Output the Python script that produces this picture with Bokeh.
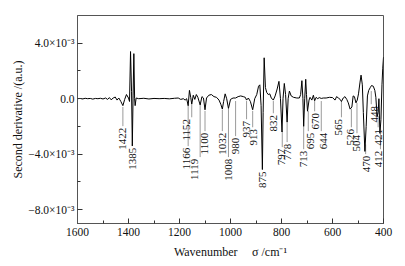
from math import pi
from bokeh.plotting import figure
from bokeh.models import Range1d, FixedTicker, ColumnDataSource
from bokeh.core.properties import value
from bokeh.embed import file_html
from bokeh.resources import INLINE

# ---- data (second derivative in units of 1e-3 a.u.) ----
wavenumber = [1600, 1590, 1580, 1570, 1560, 1550, 1540, 1530, 1520, 1510, 1500,
              1490, 1482, 1475, 1468, 1460, 1452, 1445, 1438, 1430, 1422, 1415,
              1408, 1400, 1396, 1392, 1388, 1385, 1382, 1379, 1376, 1374, 1370,
              1360, 1340, 1320, 1300, 1280, 1260, 1240, 1220, 1205, 1195, 1185,
              1178, 1172, 1166, 1161, 1156, 1152, 1146, 1140, 1134, 1128, 1119,
              1112, 1106, 1100, 1094, 1085, 1075, 1065, 1055, 1045, 1038, 1032,
              1027, 1021, 1015, 1008, 1000, 990, 980, 970, 960, 950, 942, 937,
              930, 922, 913, 905, 897, 890, 885, 880, 875, 872, 868, 863, 858,
              852, 846, 840, 832, 825, 817, 810, 804, 798, 794, 789, 784, 778,
              774, 769, 762, 753, 740, 730, 725, 720, 716, 713, 709, 705, 702,
              698, 692, 688, 681, 675, 670, 664, 658, 652, 644, 636, 625, 612,
              600, 590, 584, 577, 570, 565, 558, 551, 544, 538, 531, 524, 519,
              514, 508, 503, 498, 492, 488, 483, 479, 473, 468, 463, 458, 452,
              447, 440, 434, 430, 425, 421, 418, 414, 410, 406, 403, 400]
second_deriv = [0.00, 0.02, -0.02, 0.03, 0.00, 0.02, -0.03, 0.02, 0.00, 0.03, -0.02,
                0.05, -0.05, 0.08, -0.08, 0.05, 0.12, -0.10, 0.05, -0.20, -0.50, -0.05,
                0.30, 0.05, -0.20, 3.40, 0.50, -3.40, 0.20, 3.25, 0.00, -0.50, 0.05,
                0.00, 0.03, -0.02, 0.02, 0.00, 0.02, -0.01, 0.03, 0.05, -0.05, 0.00,
                -0.10, 0.00, -0.50, 0.60, 0.10, -0.40, 0.25, -0.05, 0.30, 0.10, -0.45,
                0.15, 0.05, -0.80, 0.05, 0.25, 0.30, 0.15, 0.10, -0.10, -0.40, -0.75,
                -0.20, 0.35, 0.00, -0.70, -0.05, 0.05, 0.05, 0.15, 0.20, 0.15, 0.10, -0.10,
                0.05, -0.20, -0.80, 0.00, 0.30, 0.90, 1.00, -0.50, -5.10, -1.00, 2.95, 0.80, 0.45,
                0.30, 0.35, 0.05, -0.10, 0.20, 0.70, 1.25, 0.00, -2.40, 0.00, 1.10, 0.30, -1.70,
                0.00, 0.55, 0.20, 0.10, 0.05, 0.05, 0.30, 1.30, 0.00, -2.00, 0.00, 1.40, 0.30,
                -0.90, -0.10, 0.10, -0.10, 0.25, -0.15, 0.10, 0.00, 0.08, 0.02, 0.05, 0.05, 0.10,
                0.08, -0.10, 0.15, 0.05, -0.05, -0.20, 0.05, 0.15, -0.05, -0.30, -0.75, -0.60, 0.20,
                0.15, -0.30, -0.10, 0.35, 1.20, 1.70, 1.00, -1.00, -3.80, -2.00, 0.20, 0.60, 0.80,
                0.95, 0.90, 0.60, 0.10, -1.30, -1.00, 0.00, -2.50, -1.50, 1.00, 2.20, 3.00]

peak_labels = [1422, 1385, 1152, 1166, 1119, 1100, 1032, 1008, 980, 937, 913, 875,
               832, 797, 778, 713, 695, 670, 644, 565, 526, 504, 470, 448, 421, 412]

y_tick_values = [-8, -4, 0, 4]
y_tick_labels = ["\u22128.0\u00d710\u207b\u00b3", "\u22124.0\u00d710\u207b\u00b3", "0.0",
                 "4.0\u00d710\u207b\u00b3"]
x_tick_values = [1600, 1400, 1200, 1000, 800, 600, 400]

# ---- annotation layout (not data) ----
line_top = [-0.60, -3.30, -0.45, -0.45, -0.45, -0.88, -0.81, -0.74, -0.17, -0.17, -0.88, -5.05,
            -0.17, -2.32, -1.75, -2.03, -0.88, -0.17, -0.17, -0.17, -0.74, -0.31, -3.30, 0.55,
            -1.24, -2.46]
text_top = [-2.10, -3.54, -1.46, -3.54, -4.33, -2.46, -2.46, -4.33, -2.82, -1.60, -2.18, -5.25,
            -1.17, -3.61, -3.25, -3.76, -2.46, -1.03, -2.46, -1.46, -2.18, -2.61, -4.12, -0.52,
            -2.18, -3.76]
text_dx = [0, 0, -5, -2, -6, -1, 0, 0, 0, 0, 1, 0,
           0, -1, 0, 0, 2, 1, 2, -3, -1, 0, 1, 3, 0, -2]

SERIF = "Liberation Serif"

p = figure(width=405, height=266, output_backend="svg", toolbar_location=None,
           x_range=Range1d(1600, 400), y_range=Range1d(-9, 6),
           min_border_left=77, min_border_right=22, min_border_top=15, min_border_bottom=43)
p.background_fill_color = "white"
p.border_fill_color = "white"
p.outline_line_color = "#555555"
p.outline_line_width = 1
p.grid.visible = False

lab_src = ColumnDataSource(dict(
    x=peak_labels,
    y0=line_top,
    y1=[t + 0.12 for t in text_top],
    ty=text_top,
    txt=[str(v) for v in peak_labels],
    dx=text_dx,
))
p.segment(x0="x", y0="y0", x1="x", y1="y1", source=lab_src, line_color="#9a9a9a", line_width=1)
p.line(wavenumber, second_deriv, line_color="black", line_width=1)
p.text(x="x", y="ty", text="txt", source=lab_src, angle=pi / 2, x_offset="dx",
       text_align="right", text_baseline="middle", text_font=value(SERIF),
       text_font_size="11px", text_color="#111111")

xa = p.xaxis[0]
xa.ticker = FixedTicker(ticks=x_tick_values, minor_ticks=[1500, 1300, 1100, 900, 700, 500])
xa.axis_label = "Wavenumber\u2003\u2009\u03c3 /cm\u207b\u00b9"
ya = p.yaxis[0]
ya.ticker = FixedTicker(ticks=y_tick_values, minor_ticks=[-6, -2, 2])
ya.major_label_overrides = {v: s for v, s in zip(y_tick_values, y_tick_labels)}
ya.axis_label = "Second derivative /(a.u.)"

for ax in (xa, ya):
    ax.axis_line_color = "#555555"
    ax.major_tick_line_color = "#333333"
    ax.minor_tick_line_color = "#333333"
    ax.major_tick_in = 5
    ax.major_tick_out = 0
    ax.minor_tick_in = 3
    ax.minor_tick_out = 0
    ax.major_label_text_font = SERIF
    ax.major_label_text_font_size = "11.5px"
    ax.major_label_text_color = "#111111"
    ax.axis_label_text_font = SERIF
    ax.axis_label_text_font_size = "12px"
    ax.axis_label_text_font_style = "normal"
    ax.axis_label_text_color = "#111111"
xa.major_label_standoff = 4
xa.axis_label_standoff = 6
ya.major_label_standoff = 3
ya.axis_label_standoff = 0

open("out.html", "w").write(file_html(p, INLINE))
